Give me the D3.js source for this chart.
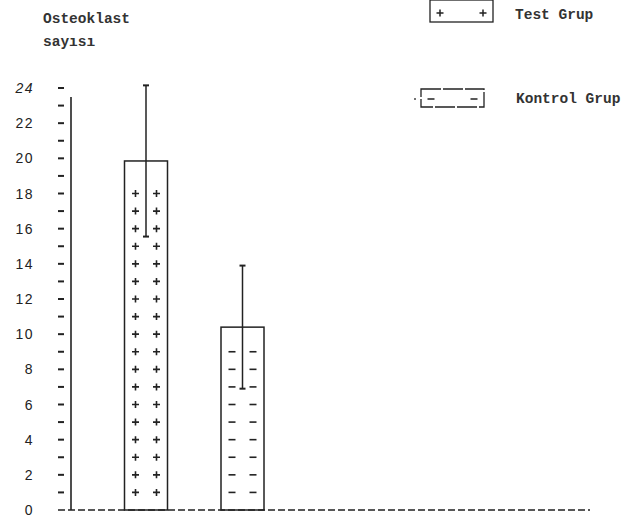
<!DOCTYPE html>
<html>
<head>
<meta charset="utf-8">
<script src="https://d3js.org/d3.v7.min.js"></script>
<style>
  body { margin: 0; background: #fff; }
  svg { display: block; }
  .mono { font-family: "Liberation Mono", "DejaVu Sans Mono", monospace; font-weight: bold; fill: #333; }
  .tick-label { font-family: "Liberation Sans", Arial, sans-serif; font-size: 14px; letter-spacing: 1.5px; fill: #222; }
</style>
</head>
<body>
<div id="chart"></div>
<script>
// data
var groups = ["Test Grup", "Kontrol Grup"];
var means = [19.85, 10.4];
var sds = [4.3, 3.5];
var patterns = ["+", "-"];
var yTicks = [0, 2, 4, 6, 8, 10, 12, 14, 16, 18, 20, 22, 24];

var width = 637, height = 517;

var svg = d3.select("#chart")
  .append("svg")
    .attr("width", width)
    .attr("height", height);

// scales
var y = d3.scaleLinear()
  .domain([0, 24])
  .range([510, 88]);

var x = d3.scalePoint()
  .domain(groups)
  .range([146, 242.5]);

var barWidth = 43;

// title
svg.append("text").attr("class", "mono")
  .attr("x", 43).attr("y", 23)
  .style("font-size", "14.5px")
  .text("Osteoklast");
svg.append("text").attr("class", "mono")
  .attr("x", 43).attr("y", 46)
  .style("font-size", "14.5px")
  .text("sayısı");

// y axis line
svg.append("line")
  .attr("x1", 71).attr("x2", 71)
  .attr("y1", 97).attr("y2", y(0))
  .attr("stroke", "#222").attr("stroke-width", 1.6);

// tick dashes at every unit
svg.append("g")
  .selectAll("line")
  .data(d3.range(1, 25))
  .enter()
  .append("line")
    .attr("x1", 58).attr("x2", 64)
    .attr("y1", d => y(d)).attr("y2", d => y(d))
    .attr("stroke", "#222").attr("stroke-width", 2);

// tick labels
svg.append("g")
  .selectAll("text")
  .data(yTicks)
  .enter()
  .append("text")
    .attr("class", "tick-label")
    .attr("x", 34)
    .attr("y", d => y(d))
    .attr("dy", "0.36em")
    .style("text-anchor", "end")
    .style("font-style", d => d == 24 ? "italic" : null)
    .text(d => d);

// bars
var bars = svg.append("g")
  .selectAll("g")
  .data(groups)
  .enter()
  .append("g");

bars.append("rect")
  .attr("x", d => x(d) - barWidth / 2)
  .attr("y", (d, i) => y(means[i]))
  .attr("width", barWidth)
  .attr("height", (d, i) => y(0) - y(means[i]))
  .attr("fill", "none")
  .attr("stroke", "#222")
  .attr("stroke-width", 1.5);

// fill symbols, one row per unit
bars.each(function(d, i) {
  var g = d3.select(this);
  var rows = d3.range(1, Math.floor(means[i]) + 1).filter(v => y(v) > y(means[i]) + 20);
  [-10.5, 10.5].forEach(function(off) {
    g.selectAll(null)
      .data(rows)
      .enter()
      .append("path")
        .attr("d", v => {
          var cx = x(d) + off, cy = y(v);
          if (patterns[i] == "+") return "M" + (cx - 3.5) + "," + cy + "H" + (cx + 3.5) + "M" + cx + "," + (cy - 3.5) + "V" + (cy + 3.5);
          return "M" + (cx - 3.5) + "," + cy + "H" + (cx + 3.5);
        })
        .attr("stroke", "#222")
        .attr("stroke-width", 1.6);
  });
});

// error bars
bars.append("line")
  .attr("x1", d => x(d)).attr("x2", d => x(d))
  .attr("y1", (d, i) => y(means[i] + sds[i]))
  .attr("y2", (d, i) => y(means[i] - sds[i]))
  .attr("stroke", "#222").attr("stroke-width", 1.5);
bars.append("line")
  .attr("x1", d => x(d) - 3).attr("x2", d => x(d) + 3)
  .attr("y1", (d, i) => y(means[i] + sds[i]))
  .attr("y2", (d, i) => y(means[i] + sds[i]))
  .attr("stroke", "#222").attr("stroke-width", 2);
bars.append("line")
  .attr("x1", d => x(d) - 3).attr("x2", d => x(d) + 3)
  .attr("y1", (d, i) => y(means[i] - sds[i]))
  .attr("y2", (d, i) => y(means[i] - sds[i]))
  .attr("stroke", "#222").attr("stroke-width", 2);

// dashed zero line
svg.append("line")
  .attr("x1", 58).attr("x2", 590)
  .attr("y1", y(0)).attr("y2", y(0))
  .attr("stroke", "#222").attr("stroke-width", 1.6)
  .attr("stroke-dasharray", "7,3");

// legend
var legend = [
  {box: [430, 0, 63, 22], sym: "+", tx: 515, ty: 19},
  {box: [421, 89, 63, 18], sym: "-", tx: 516, ty: 103}
];
legend.forEach(function(l, i) {
  svg.append("rect")
    .attr("x", l.box[0]).attr("y", l.box[1])
    .attr("width", l.box[2]).attr("height", l.box[3])
    .attr("fill", "none").attr("stroke", "#222")
    .attr("stroke-width", 1.3)
    .attr("stroke-dasharray", i == 0 ? null : "20,2");
  [l.box[0] + 10, l.box[0] + l.box[2] - 10].forEach(function(cx) {
    var cy = l.box[1] + l.box[3] / 2 + 2;
    svg.append("path")
      .attr("d", l.sym == "+"
        ? "M" + (cx - 3.5) + "," + cy + "H" + (cx + 3.5) + "M" + cx + "," + (cy - 3.5) + "V" + (cy + 3.5)
        : "M" + (cx - 3.5) + "," + (cy - 1) + "H" + (cx + 3.5))
      .attr("stroke", "#222").attr("stroke-width", 1.5);
  });
  svg.append("text").attr("class", "mono")
    .attr("x", l.tx).attr("y", l.ty)
    .style("font-size", "14.5px")
    .text(groups[i]);
});
// small speck left of the Kontrol legend box
svg.append("circle").attr("cx", 415).attr("cy", 99).attr("r", 1).attr("fill", "#444");
</script>
</body>
</html>
